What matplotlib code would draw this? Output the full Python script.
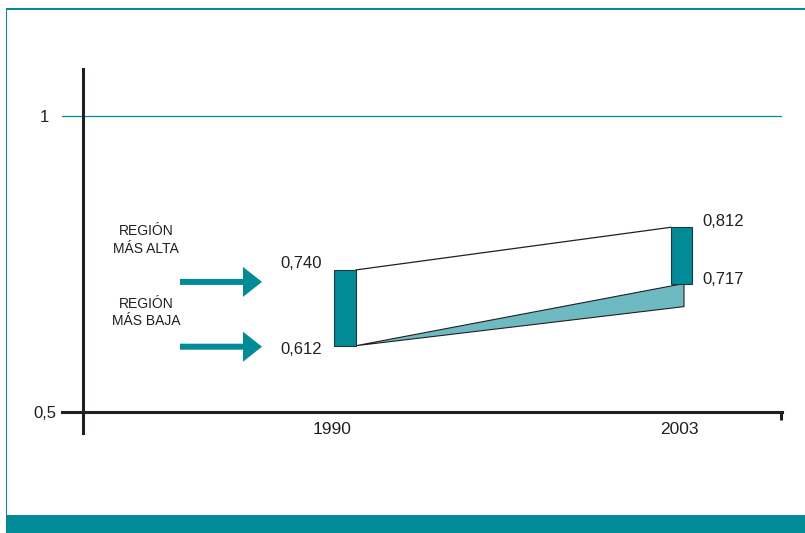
import matplotlib
matplotlib.use("Agg")
import matplotlib.pyplot as plt
from matplotlib.patches import Rectangle, Polygon, FancyArrow

# ---------------- data ----------------
years = ["1990", "2003"]
highest = [0.740, 0.812]          # región más alta
lowest = [0.612, 0.717]           # región más baja
lowest_wedge_2003 = 0.678         # lower edge of the light wedge in 2003 (unlabelled)
high_labels = ["0,740", "0,812"]
low_labels = ["0,612", "0,717"]
y_ticks = [0.5, 1.0]
y_tick_labels = ["0,5", "1"]
region_labels = ["REGIÓN\nMÁS ALTA", "REGIÓN\nMÁS BAJA"]

# ---------------- style ----------------
plt.rcParams["font.family"] = ["Liberation Sans", "DejaVu Sans"]
TEAL = "#008B96"
LIGHT = "#6DBAC2"
DARK = "#231f20"
EDGE = "#1f3a3c"

W, H = 805, 533
fig = plt.figure(figsize=(W / 100, H / 100), dpi=100)
fig.patch.set_facecolor("white")

def fx(px):
    return px / W

def fy(py):
    return 1 - py / H

# overlay axes in pixel coordinates for frame decorations
over = fig.add_axes([0, 0, 1, 1], zorder=0)
over.set_xlim(0, W)
over.set_ylim(H, 0)
over.axis("off")
over.add_patch(Rectangle((6, 7.8), W - 6, 2.6, color=TEAL, lw=0))
over.add_patch(Rectangle((5.6, 8), 1.8, 515 - 8, color=TEAL, lw=0))
over.add_patch(Rectangle((6, 515), W - 6, 18, color=TEAL, lw=0))

# data axes
ax = fig.add_axes([fx(62), fy(433), fx(782) - fx(62), fy(69) - fy(433)], zorder=1)
ax.patch.set_alpha(0)
px_per_year = 347.0
ax.set_xlim(-(332 - 62) / px_per_year, 1 + (782 - 679) / px_per_year)
px_per_unit = 592.0
ax.set_ylim(0.5 - (433 - 412) / px_per_unit, 1.0 + (116 - 69) / px_per_unit)

for s in ["top", "right"]:
    ax.spines[s].set_visible(False)
yaxis_x = (83.3 - 332) / px_per_year
ax.spines["left"].set_position(("data", yaxis_x))
ax.spines["bottom"].set_position(("data", 0.5))
for s in ["left", "bottom"]:
    ax.spines[s].set_linewidth(2.2)
    ax.spines[s].set_color(DARK)

ax.set_yticks(y_ticks, y_tick_labels)
ax.tick_params(axis="y", length=0, pad=28, labelsize=12, labelcolor=DARK)
for lab in ax.get_yticklabels():
    lab.set_horizontalalignment("center")
ax.set_xticks([0, 1], years)
ax.tick_params(axis="x", length=0, pad=7, labelsize=12.5, labelcolor=DARK)

# reference line at 1
ax.axhline(1.0, color=TEAL, lw=0.9, zorder=1)

# small end tick on the x axis
xr = ax.get_xlim()[1]
ax.plot([xr - 0.003, xr - 0.003], [0.5, 0.5 - 8 / px_per_unit], color=DARK, lw=2.2,
        clip_on=False, solid_capstyle="butt")

# bars
bar_offset = [0.037, 0.007]
bar_width = [0.064, 0.061]
xc = [i + bar_offset[i] for i in range(len(years))]
heights = [h - l for h, l in zip(highest, lowest)]
ax.bar(xc, heights, bottom=lowest, width=bar_width, color=TEAL, edgecolor=EDGE,
       linewidth=0.8, zorder=4)

x0_right = xc[0] + bar_width[0] / 2
x1_left = xc[1] - bar_width[1] / 2
x1_right = xc[1] + bar_width[1] / 2
x_wedge = 1 + (684 - 679) / px_per_year

# upper connecting line
ax.plot([x0_right, x1_left], [highest[0], highest[1]], color=DARK, lw=0.9, zorder=3)
# lower wedge
ax.add_patch(Polygon([(x0_right, lowest[0]), (x_wedge, lowest[1]), (x_wedge, lowest_wedge_2003)],
                     closed=True, facecolor=LIGHT, edgecolor=DARK, lw=0.8, zorder=3))

# value labels
x0_left = xc[0] - bar_width[0] / 2
ax.annotate(high_labels[0], (x0_left, highest[0]), xytext=(-8.6, 1.4), textcoords="offset points",
            ha="right", va="baseline", fontsize=12, color=DARK)
ax.annotate(low_labels[0], (x0_left, lowest[0]), xytext=(-8.6, -5.8), textcoords="offset points",
            ha="right", va="baseline", fontsize=12, color=DARK)
ax.annotate(high_labels[1], (x1_right, highest[1]), xytext=(7.2, 0.7), textcoords="offset points",
            ha="left", va="baseline", fontsize=12, color=DARK)
ax.annotate(low_labels[1], (x1_right, lowest[1]), xytext=(7.2, -0.3), textcoords="offset points",
            ha="left", va="baseline", fontsize=12, color=DARK)

# arrows and region labels
def to_pix_y(v):
    return H - ax.transData.transform((0, v))[1]

arrow_y = [to_pix_y(highest[0]) + 12, to_pix_y(lowest[0]) + 1]
text_gap = [42, 34]
for ya, lab, gap in zip(arrow_y, region_labels, text_gap):
    over.add_patch(FancyArrow(180, ya, 82, 0, width=6, head_width=30, head_length=19,
                              length_includes_head=True, color=TEAL, lw=0))
    over.text(146, ya - gap, lab, ha="center", va="center", fontsize=10, color=DARK,
              linespacing=1.3)

fig.savefig("out.png", dpi=100)
